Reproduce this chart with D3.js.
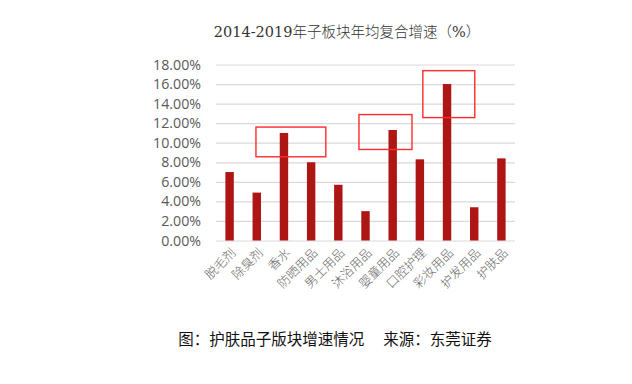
<!DOCTYPE html>
<html><head><meta charset="utf-8">
<script src="https://cdn.jsdelivr.net/npm/d3@7/dist/d3.min.js"></script>
<style>body{margin:0;background:#fff;}svg{display:block;}</style>
</head><body>
<svg id="c" width="632" height="384"></svg>
<script>
const categories = ["脱毛剂","除臭剂","香水","防晒用品","男士用品","沐浴用品","婴童用品","口腔护理","彩妆用品","护发用品","护肤品"];
const values = [7.0, 4.9, 11.0, 8.0, 5.7, 3.0, 11.3, 8.3, 16.0, 3.4, 8.4];
const yTicks = [0,2,4,6,8,10,12,14,16,18];
const title = "2014-2019年子板块年均复合增速（%）";
const caption = "图：护肤品子版块增速情况\u3000 来源：东莞证券";
// highlight boxes: [start band index, end band index, low %, high %]
const boxes = [[1.47,4.04,8.56,11.6],[5.26,7.21,9.31,12.88],[7.61,9.52,12.57,17.37]];

const svg = d3.select("#c");
const m = {l:216, r:515, t:64.5, b:240.5};
const x = d3.scaleBand().domain(categories).range([m.l,m.r]).paddingInner(0.69).paddingOuter(0.345);
const xu = d3.scaleLinear().domain([0,categories.length]).range([m.l,m.r]);
const y = d3.scaleLinear().domain([0,18]).range([m.b,m.t]);

svg.append("text").attr("x",347).attr("y",37).attr("text-anchor","middle")
  .attr("font-family","'DejaVu Serif','Noto Sans CJK SC',serif").attr("font-size",14.5)
  .attr("font-weight",300).attr("fill","#333")
  .text(title);

const ya = svg.append("g").attr("transform",`translate(${m.l},0)`)
  .call(d3.axisLeft(y).tickValues(yTicks).tickSize(-(m.r-m.l)).tickPadding(15).tickFormat(d=>d.toFixed(2)+"%"));
ya.select(".domain").remove();
ya.selectAll(".tick line").attr("stroke","#d9d9d9").attr("stroke-width",1.2);
ya.selectAll(".tick text").attr("fill","#595959").attr("font-family","'Open Sans','Liberation Sans',sans-serif").attr("font-size",14.2);

svg.append("g").selectAll("rect").data(values).join("rect")
  .attr("x",(d,i)=>x(categories[i])).attr("width",x.bandwidth())
  .attr("y",d=>y(d)).attr("height",d=>y(0)-y(d)).attr("fill","#ae1515");

const xa = svg.append("g").attr("transform",`translate(0,${m.b})`)
  .call(d3.axisBottom(x).tickSize(0).tickPadding(0));
xa.select(".domain").remove();
xa.selectAll(".tick text").attr("text-anchor","end")
  .attr("transform","translate(4,10) rotate(-45)").attr("dy","0.35em")
  .attr("fill","#666").attr("font-family","'Noto Sans CJK SC',serif").attr("font-size",12.5).attr("font-weight",300);

svg.append("g").selectAll("rect").data(boxes).join("rect")
  .attr("x",d=>xu(d[0])).attr("width",d=>xu(d[1])-xu(d[0]))
  .attr("y",d=>y(d[3])).attr("height",d=>y(d[2])-y(d[3]))
  .attr("fill","none").attr("stroke","#ff2b2b").attr("stroke-width",1.4);

svg.append("text").attr("x",335).attr("y",345).attr("text-anchor","middle")
  .attr("font-family","'Noto Sans CJK SC',sans-serif").attr("font-size",15.5).attr("fill","#111")
  .text(caption);
</script>
</body></html>
